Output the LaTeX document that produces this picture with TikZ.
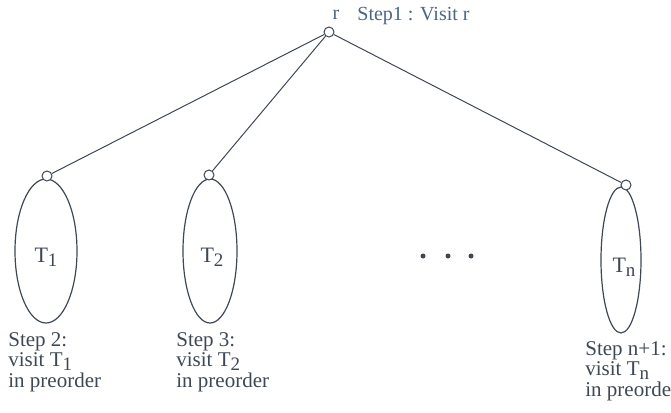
\documentclass[tikz,border=0pt]{standalone}
\usepackage{fontspec}
\setmainfont{Liberation Serif}
\usepackage{xcolor}
\usetikzlibrary{shapes.geometric}
\definecolor{ink}{HTML}{3E4854}
\definecolor{inkblue}{HTML}{4A6682}
\newcommand{\lowidx}[1]{\raisebox{-0.4ex}{\fontsize{9.5}{10}\selectfont #1}}

\begin{document}
\begin{tikzpicture}[x=0.5pt,y=-0.5pt,
  knot/.style={circle,draw=ink,fill=white,minimum size=5pt,inner sep=0pt,line width=0.5pt},
  subtree/.style={ellipse,draw=ink,inner sep=0pt,line width=0.6pt},
  tname/.style={inner sep=0pt,text=ink,font=\fontsize{11}{11}\selectfont},
  lbl/.style={align=left,anchor=north west,inner sep=0pt,text=ink,font=\fontsize{10.5}{10.2}\selectfont},
  link/.style={draw=ink,line width=0.5pt}]
\useasboundingbox (0,0) rectangle (671,413);
% root
\node[knot] (r) at (329,32) {};
\node[text=inkblue,font=\fontsize{10}{10}\selectfont,inner sep=0pt] (rname) at (336,15) {r};
\node[text=inkblue,font=\fontsize{10}{10}\selectfont,inner sep=0pt,anchor=west] (step1) at (357,16) {Step1 : Visit r};
% subtrees
\node[subtree,minimum width=31pt,minimum height=72pt] (t1) at (46,251) {};
\node[subtree,minimum width=27pt,minimum height=72pt] (t2) at (210,251) {};
\node[subtree,minimum width=20pt,minimum height=73pt] (tn) at (621,260) {};
\node[tname] (t1name) at (46,257) {T\lowidx{1}};
\node[tname] (t2name) at (212,257) {T\lowidx{2}};
\node[tname] (tnname) at (624,267) {T\lowidx{n}};
\node[knot] (c1) at (47,176) {};
\node[knot] (c2) at (209,175) {};
\node[knot] (cn) at (626,185) {};
\foreach \c in {c1,c2,cn}{\draw[link] (r) -- (\c);}
% dots
\foreach \x [count=\i] in {423,448,471}{\node[circle,fill=ink,minimum size=2.5pt,inner sep=0pt] (dot\i) at (\x,256) {};}
% steps
\node[lbl] (s2) at (8,332) {Step 2:\\visit T\lowidx{1}\\in preorder};
\node[lbl] (s3) at (176,332) {Step 3:\\visit T\lowidx{2}\\in preorder};
\node[lbl] (sn) at (585,341) {Step n+1:\\visit T\lowidx{n}\\in preorder};
\end{tikzpicture}
\end{document}
